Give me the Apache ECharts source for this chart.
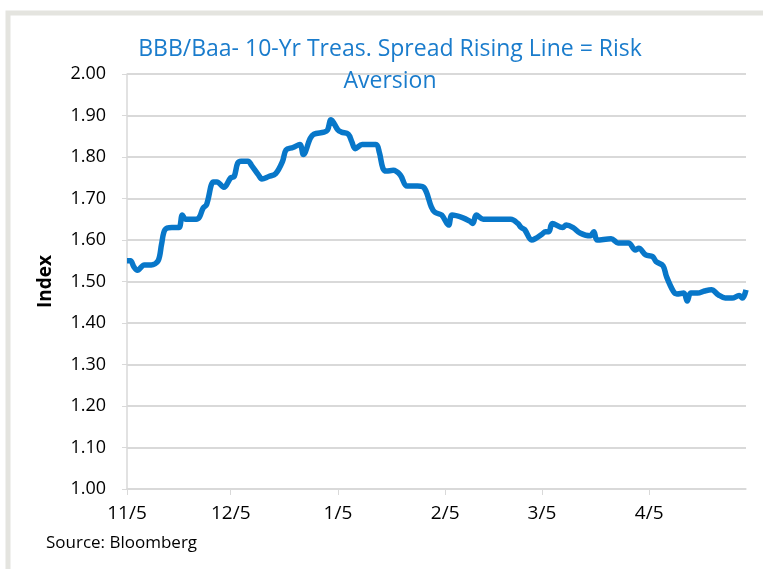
<!DOCTYPE html>
<html>
<head>
<meta charset="utf-8">
<script src="https://cdn.jsdelivr.net/npm/echarts@6/dist/echarts.min.js"></script>
<style>
html,body{margin:0;padding:0;background:#fff;}
#chart{width:763px;height:569px;}
</style>
</head>
<body>
<div id="chart"></div>
<script>
// ---- data ----
const titleText = 'BBB/Baa- 10-Yr Treas. Spread Rising Line = Risk\nAversion';
const yAxisName = 'Index';
const sourceText = 'Source: Bloomberg';
const dates = [
 '2018-11-05','2018-11-06','2018-11-07','2018-11-08','2018-11-10','2018-11-12','2018-11-14','2018-11-15','2018-11-16','2018-11-18',
 '2018-11-20','2018-11-21','2018-11-22','2018-11-25','2018-11-26','2018-11-27','2018-11-28','2018-11-30','2018-12-01','2018-12-03',
 '2018-12-05','2018-12-06','2018-12-07','2018-12-08','2018-12-10','2018-12-11','2018-12-13','2018-12-14','2018-12-16','2018-12-18',
 '2018-12-20','2018-12-21','2018-12-23','2018-12-25','2018-12-26','2018-12-28','2018-12-29','2019-01-01','2019-01-02','2019-01-03',
 '2019-01-05','2019-01-06','2019-01-08','2019-01-09','2019-01-10','2019-01-12','2019-01-16','2019-01-17','2019-01-18','2019-01-19',
 '2019-01-21','2019-01-23','2019-01-25','2019-01-28','2019-01-30','2019-02-01','2019-02-02','2019-02-04','2019-02-06','2019-02-07',
 '2019-02-10','2019-02-12','2019-02-13','2019-02-14','2019-02-16','2019-02-24','2019-02-26','2019-02-27','2019-02-28','2019-03-02',
 '2019-03-03','2019-03-05','2019-03-06','2019-03-07','2019-03-08','2019-03-11','2019-03-12','2019-03-14','2019-03-16','2019-03-19',
 '2019-03-20','2019-03-21','2019-03-25','2019-03-27','2019-03-30','2019-04-01','2019-04-02','2019-04-04','2019-04-06','2019-04-07',
 '2019-04-09','2019-04-10','2019-04-12','2019-04-13','2019-04-15','2019-04-16','2019-04-17','2019-04-19','2019-04-21','2019-04-23',
 '2019-04-25','2019-04-27','2019-04-29','2019-05-01','2019-05-02','2019-05-03'
];
const spread = [
 1.55,1.55,1.535,1.527,1.54,1.54,1.55,1.59,1.625,1.63,
 1.63,1.66,1.65,1.65,1.656,1.677,1.685,1.74,1.74,1.727,
 1.75,1.753,1.785,1.79,1.79,1.78,1.757,1.747,1.753,1.76,
 1.79,1.817,1.823,1.83,1.806,1.845,1.855,1.86,1.865,1.89,
 1.865,1.86,1.855,1.837,1.82,1.83,1.83,1.81,1.773,1.766,
 1.768,1.757,1.73,1.73,1.725,1.68,1.667,1.66,1.636,1.66,
 1.654,1.646,1.64,1.66,1.65,1.65,1.64,1.63,1.625,1.60,
 1.603,1.614,1.62,1.62,1.64,1.63,1.636,1.63,1.617,1.61,
 1.62,1.60,1.603,1.593,1.593,1.576,1.58,1.564,1.56,1.548,
 1.538,1.512,1.476,1.47,1.472,1.453,1.472,1.472,1.477,1.48,
 1.468,1.46,1.46,1.466,1.46,1.48
];
const xTickDates = ['2018-11-05','2018-12-05','2019-01-05','2019-02-05','2019-03-05','2019-04-05'];
const xMin = '2018-11-05';
const xMax = '2019-05-03';
const yMin = 1.0, yMax = 2.0, yStep = 0.1;

// ---- chart ----
function ts(s){ const p = s.split('-').map(Number); return Date.UTC(p[0], p[1]-1, p[2]); }
const tickTs = xTickDates.map(ts);
const chart = echarts.init(document.getElementById('chart'));
const FONT = 'Open Sans';
chart.setOption({
  animation: false,
  backgroundColor: '#ffffff',
  textStyle: { fontFamily: FONT },
  title: {
    text: titleText,
    left: 385, top: 28, textAlign: 'center',
    textStyle: { color: '#1a7ccc', fontSize: 23, fontWeight: 'normal', lineHeight: 32, fontFamily: FONT }
  },
  graphic: [
    { type: 'rect', shape: { x: 8, y: 13, width: 800, height: 620 }, style: { fill: 'none', stroke: '#e4e4df', lineWidth: 5 }, silent: true },
    { type: 'text', left: 46, top: 535, style: { text: sourceText, fontSize: 17, fill: '#000', fontFamily: FONT } }
  ],
  grid: { left: 127, right: 17, top: 74, bottom: 80, containLabel: false },
  xAxis: {
    type: 'value',
    min: ts(xMin), max: ts(xMax),
    axisLine: { show: true, onZero: false, lineStyle: { color: '#d9d9d9', width: 1.5 } },
    axisTick: { show: true, customValues: tickTs, length: 6, lineStyle: { color: '#d9d9d9' } },
    axisLabel: {
      customValues: tickTs, color: '#000', fontSize: 19, margin: 15, fontFamily: FONT,
      formatter: function (v) { const d = new Date(v); return (d.getUTCMonth()+1) + '/' + d.getUTCDate(); }
    },
    splitLine: { show: false }
  },
  yAxis: {
    type: 'value', min: yMin, max: yMax, interval: yStep,
    name: yAxisName, nameLocation: 'middle', nameGap: 72, nameRotate: 90,
    nameTextStyle: { color: '#000', fontSize: 19, fontWeight: 'bold', fontFamily: FONT },
    axisLine: { show: true, lineStyle: { color: '#d9d9d9', width: 1.5 } },
    axisTick: { show: true, length: 5, lineStyle: { color: '#d9d9d9' } },
    axisLabel: { color: '#000', fontSize: 18, margin: 21, fontFamily: FONT, formatter: v => v.toFixed(2) },
    splitLine: { show: true, lineStyle: { color: '#d9d9d9', width: 2 } }
  },
  series: [{
    type: 'line',
    data: dates.map((d, i) => [ts(d), spread[i]]),
    showSymbol: false,
    smooth: 0.35,
    lineStyle: { color: '#0877c9', width: 5.5 },
    itemStyle: { color: '#0877c9' }
  }]
});
</script>
</body>
</html>
